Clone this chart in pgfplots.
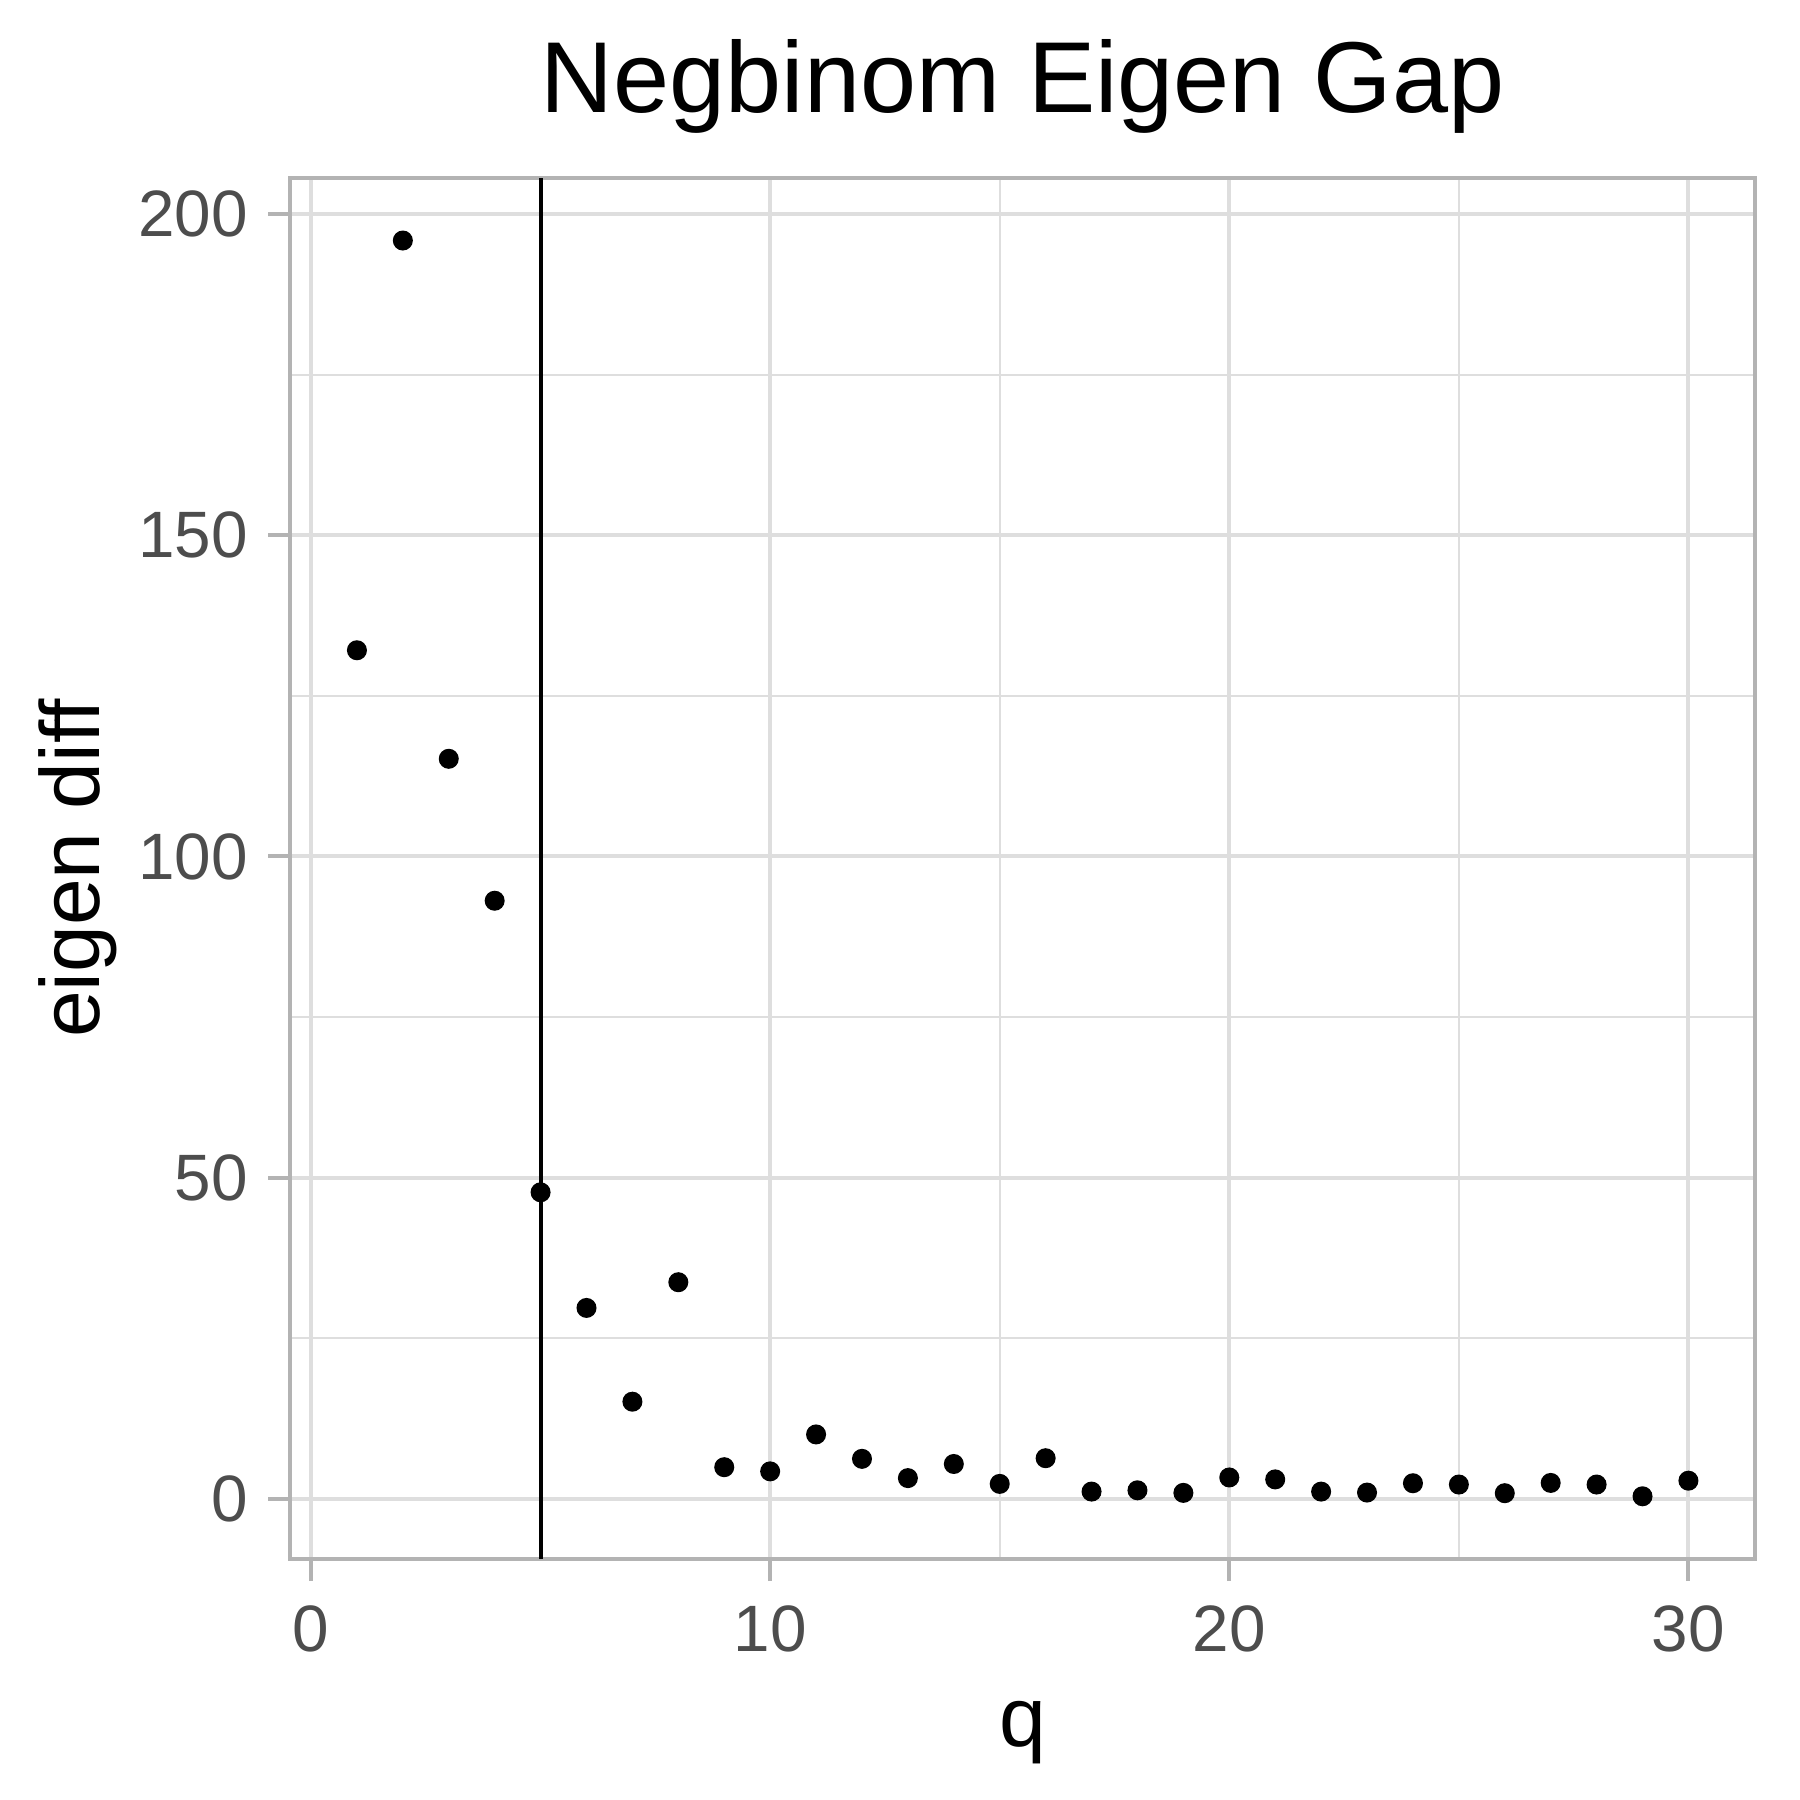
\documentclass[border=0pt]{standalone}
\usepackage{fontspec}
\setmainfont{Liberation Sans}
\usepackage{pgfplots}
\pgfplotsset{compat=1.18}

\definecolor{gray70}{HTML}{B3B3B3}
\definecolor{gray87}{HTML}{DEDEDE}
\definecolor{gray30}{HTML}{4D4D4D}

\begin{document}
\begin{tikzpicture}
\begin{axis}[
  scale only axis,
  width=366.2pt, height=345.4pt,
  xmin=-0.45, xmax=31.45,
  ymin=-9.4, ymax=205.7,
  xtick={0,10,20,30},
  ytick={0,50,100,150,200},
  minor xtick={5,15,25},
  minor ytick={25,75,125,175},
  grid=both,
  major grid style={draw=gray87, line width=1pt},
  minor grid style={draw=gray87, line width=0.55pt},
  axis line style={draw=gray70, line width=1pt},
  tick align=outside,
  xtick pos=bottom, ytick pos=left,
  major tick length=5.5pt,
  minor tick length=0pt,
  major tick style={draw=gray70, line width=1pt},
  /pgf/number format/assume math mode=true,
  tick label style={font=\fontsize{16.4}{18}\selectfont, text=gray30},
  xticklabel style={anchor=north, inner sep=0pt, yshift=-5.95pt},
  yticklabel style={anchor=east, inner sep=0pt, xshift=-5pt},
  title={Negbinom Eigen Gap},
  title style={at={(rel axis cs:0.5,1)}, anchor=base, yshift=10.3pt, font=\fontsize{25.2}{29}\selectfont},
  xlabel={q},
  every axis x label/.style={at={(rel axis cs:0.5,0)}, anchor=base, yshift=-46.9pt, font=\fontsize{21}{24}\selectfont},
  ylabel={eigen diff},
  every axis y label/.style={at={(rel axis cs:0,0.5)}, xshift=-47.6pt, rotate=90, anchor=base, font=\fontsize{21}{24}\selectfont},
]
\addplot [black, line width=1pt, forget plot] coordinates {(5,-9.4) (5,205.7)};
\addplot [only marks, mark=*, mark size=2.3pt, black] coordinates {
  (1,132.1) (2,195.9) (3,115.2) (4,93.1) (5,47.7)
  (6,29.7) (7,15.1) (8,33.7) (9,4.9) (10,4.25)
  (11,10.0) (12,6.2) (13,3.2) (14,5.4) (15,2.3)
  (16,6.3) (17,1.1) (18,1.3) (19,0.9) (20,3.3)
  (21,3.0) (22,1.1) (23,0.95) (24,2.4) (25,2.2)
  (26,0.85) (27,2.45) (28,2.2) (29,0.37) (30,2.8)
};
\end{axis}
\pgfresetboundingbox
\path (-72.6pt,-60.25pt) rectangle (377.4pt,389.8pt);
\end{tikzpicture}
\end{document}
